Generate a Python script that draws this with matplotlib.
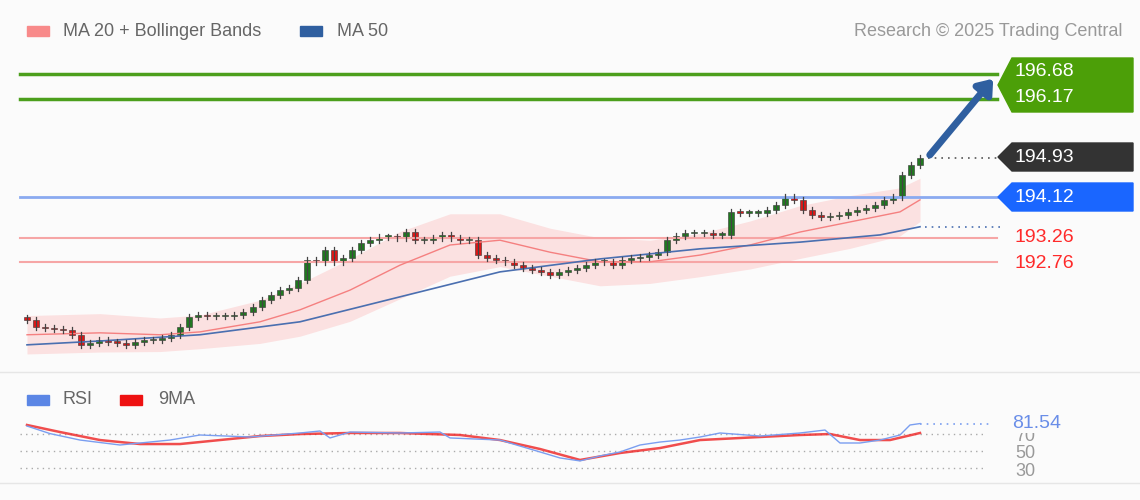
import numpy as np
import matplotlib
matplotlib.use("Agg")
import matplotlib.pyplot as plt
from matplotlib.patches import Polygon, Rectangle

plt.rcParams['font.family'] = ['Liberation Sans', 'DejaVu Sans']

closes = [191.56,191.41,191.39,191.37,191.35,191.25,191.04,191.08,191.14,191.10,191.08,191.04,191.10,191.14,191.14,191.18,
          191.25,191.41,191.62,191.66,191.64,191.64,191.64,191.66,191.72,191.83,191.97,192.08,192.18,192.22,192.39,192.81,
          192.77,193.02,192.77,192.85,193.02,193.16,193.22,193.29,193.29,193.27,193.39,193.22,193.22,193.27,193.33,193.27,
          193.22,193.22,192.91,192.85,192.81,192.77,192.70,192.64,192.60,192.56,192.50,192.56,192.60,192.64,192.70,192.77,
          192.77,192.70,192.81,192.85,192.87,192.91,192.97,193.22,193.31,193.37,193.37,193.37,193.33,193.33,
          193.81,193.79,193.79,193.79,193.85,193.95,194.12,194.06,193.85,193.75,193.70,193.72,193.75,193.81,193.85,193.89,
          193.95,194.06,194.12,194.58,194.79,194.93]
ma20_x = [27,100,160,200,260,300,350,400,450,500,550,600,650,700,750,800,850,900,920]
ma20 = [191.25,191.29,191.25,191.31,191.52,191.77,192.18,192.70,193.12,193.22,192.97,192.77,192.77,192.91,193.12,193.39,193.60,193.81,194.06]
band = [0.40,0.40,0.35,0.35,0.45,0.55,0.65,0.70,0.65,0.55,0.50,0.50,0.45,0.45,0.50,0.55,0.55,0.50,0.45]
ma50_x = [27,100,200,300,400,500,600,700,800,880,920]
ma50 = [191.04,191.12,191.25,191.52,192.04,192.56,192.83,193.04,193.18,193.33,193.50]
rsi_x = [27,50,80,120,170,200,250,300,320,330,350,400,440,450,500,520,540,560,580,600,620,640,660,680,700,720,760,800,825,840,860,880,900,910,920]
rsi = [78.7,70,62.6,56.9,62.6,68.4,66.1,70.7,73,65,71.8,70.7,71.8,65,62.6,55.7,48.9,42,38.6,44.3,48.9,56.9,60.3,62.6,66.1,70.7,67.2,70.7,74.1,59.2,59.2,62.6,68.4,79.9,81.54]
ma9_x = [27,60,100,140,180,220,260,300,350,400,430,460,500,540,580,620,660,700,760,800,830,860,890,920]
ma9 = [79.9,71.8,62.6,58,58,62.6,67.2,69.5,70.7,70.7,69.5,68.4,62.6,52.3,39.7,47.7,53.4,62.6,66.1,68.4,69.5,62.6,62.6,70.7]

fig = plt.figure(figsize=(11.4, 5), dpi=100)
fig.patch.set_facecolor("#fbfbfb")

ax = fig.add_axes([0, 130/500, 1, 315/500])
ax.set_xlim(0, 1140)
ax.set_ylim(194.12 - 173/48, 194.12 + 142/48)
ax.axis("off")

for p in [196.68, 196.17]:
    ax.plot([20, 997], [p, p], color="#4c9f1c", lw=2.5)
ax.plot([20, 997], [194.12, 194.12], color="#8aaaf0", lw=2)
for p in [193.26, 192.76]:
    ax.plot([20, 997], [p, p], color="#f6a6a6", lw=1.5)

mx = np.array(ma20_x); m = np.array(ma20); b = np.array(band)
ax.fill_between(mx, m - b, m + b, color="#fcd6d6", alpha=0.7, lw=0)
ax.plot(mx, m, color="#f58080", lw=1)
ax.plot(ma50_x, ma50, color="#4a6fb0", lw=1.2)

xs = np.linspace(27, 920, len(closes))
opens = [closes[0] + 0.05] + closes[:-1]
for x, o, c in zip(xs, opens, closes):
    hi = max(o, c) + 0.06; lo = min(o, c) - 0.06
    ax.plot([x, x], [lo, hi], color="#444444", lw=0.9)
    col = "#1f7a1f" if c >= o else "#e01616"
    h = max(abs(c - o), 0.03)
    ax.add_patch(Rectangle((x - 3, min(o, c)), 6, h, color=col, ec="#333333", lw=0.4))

ax.plot([928, 1000], [194.93, 194.93], color="#555555", lw=1.2, ls=(0, (1, 3)))
ax.plot([925, 1000], [193.50, 193.50], color="#4a6fb0", lw=1.2, ls=(0, (1, 3)))
ax.annotate("", xy=(995, 196.68 - 0.05), xytext=(928, 194.95),
            arrowprops=dict(arrowstyle="-|>,head_width=0.6,head_length=0.8", color="#2f5fa0", lw=5))

ov = fig.add_axes([0, 0, 1, 1], zorder=5)
ov.set_xlim(0, 1140); ov.set_ylim(500, 0); ov.axis("off"); ov.patch.set_alpha(0)

def tag(y0, y1, color):
    ym = (y0 + y1) / 2
    ov.add_patch(Polygon([[998, ym], [1012, y0], [1133, y0], [1133, y1], [1012, y1]], closed=True, color=color))

fs = 14
tag(58, 112, "#4c9f08")
ov.text(1015, 71, "196.68", color="white", fontsize=fs, va="center")
ov.text(1015, 97, "196.17", color="white", fontsize=fs, va="center")
tag(143, 171, "#333333")
ov.text(1015, 157, "194.93", color="white", fontsize=fs, va="center")
tag(183, 211, "#1a66ff")
ov.text(1015, 197, "194.12", color="white", fontsize=fs, va="center")
ov.text(1015, 238, "193.26", color="#ff2a2a", fontsize=fs, va="center")
ov.text(1015, 263, "192.76", color="#ff2a2a", fontsize=fs, va="center")

lf = 13
ov.add_patch(Rectangle((27, 26), 22, 10, color="#f88a8a"))
ov.text(63, 31, "MA 20 + Bollinger Bands", color="#666666", fontsize=lf, va="center")
ov.add_patch(Rectangle((300, 26), 22, 10, color="#2f5fa0"))
ov.text(337, 31, "MA 50", color="#666666", fontsize=lf, va="center")
ov.text(1122, 31, "Research © 2025 Trading Central", color="#999999", fontsize=lf, va="center", ha="right")

ov.plot([0, 1140], [372, 372], color="#e6e6e6", lw=1)
ov.plot([0, 1140], [483, 483], color="#e6e6e6", lw=1)
ov.add_patch(Rectangle((27, 395), 22, 10, color="#5b86e5"))
ov.text(63, 400, "RSI", color="#666666", fontsize=lf, va="center")
ov.add_patch(Rectangle((120, 395), 22, 10, color="#ee1111"))
ov.text(158, 400, "9MA", color="#666666", fontsize=lf, va="center")

rx = fig.add_axes([0, 20/500, 1, 65/500])
rx.set_xlim(0, 1140)
rx.set_ylim(50 - 29 / 0.87, 50 + 36 / 0.87)
rx.axis("off")
for lv in [70, 50, 30]:
    rx.plot([20, 985], [lv, lv], color="#aaaaaa", lw=1, ls=(0, (1, 3)))
    rx.text(1015, lv - 3, str(lv), color="#999999", fontsize=13, va="center")
rx.plot(ma9_x, ma9, color="#ee2222", lw=1.8, alpha=0.8)
rx.plot(rsi_x, rsi, color="#7a9ef0", lw=1)
rx.plot([920, 990], [81.54, 81.54], color="#7a9ef0", lw=1.2, ls=(0, (1, 3)))
rx.text(1012, 81.54, "81.54", color="#6a8ee8", fontsize=fs, va="center",
        bbox=dict(fc="#fbfbfb", ec="none", pad=1))

fig.savefig("out.png", dpi=100, facecolor=fig.get_facecolor())
